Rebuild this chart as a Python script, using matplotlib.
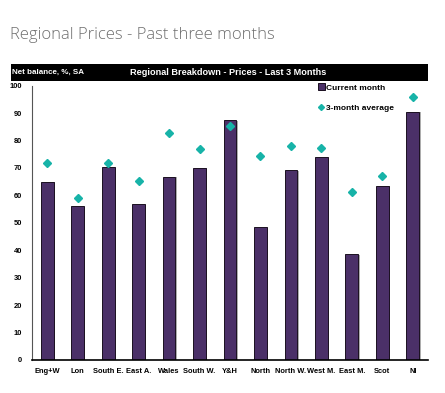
import matplotlib
matplotlib.use("Agg")
import matplotlib.pyplot as plt
from matplotlib.patches import Rectangle
from matplotlib import patheffects as pe

regions = ["Eng+W", "Lon", "South E.", "East A.", "Wales", "South W.", "Y&H",
           "North", "North W.", "West M.", "East M.", "Scot", "NI"]
current_month = [65.0, 56.0, 70.3, 56.9, 66.8, 70.1, 87.4, 48.5, 69.2, 73.9, 38.6, 63.6, 90.5]
three_month_avg = [71.9, 59.0, 71.9, 65.3, 82.7, 76.8, 85.2, 74.2, 77.9, 77.3, 61.2, 67.0, 95.9]
yticks = [0, 10, 20, 30, 40, 50, 60, 70, 80, 90, 100]

purple = "#4b3068"
teal = "#17b3a8"
lab_font = ["Liberation Sans Narrow", "Liberation Sans", "DejaVu Sans"]

W, H = 445, 393
fig = plt.figure(figsize=(W / 100, H / 100), dpi=100)
fig.patch.set_facecolor("white")

# page title
fig.text(10 / W, 1 - 39 / H, "Regional Prices - Past three months",
         family=["Open Sans", "DejaVu Sans"], fontweight="light",
         fontsize=12, color="#6e6e6e", ha="left", va="baseline")

# black header band
fig.patches.append(Rectangle((11 / W, 1 - 81 / H), (428 - 11) / W, 17 / H,
                             transform=fig.transFigure, facecolor="black",
                             edgecolor="none", zorder=0))
fig.text(12 / W, 1 - 72.5 / H, "Net balance, %, SA", color="white",
         family=lab_font, fontweight="bold", fontsize=5.8, va="center", ha="left")
fig.text(228 / W, 1 - 72.5 / H, "Regional Breakdown - Prices - Last 3 Months",
         color="white", family=lab_font, fontweight="bold", fontsize=6.6,
         va="center", ha="center")

ax = fig.add_axes([32 / W, 1 - 360 / H, (428 - 32) / W, (360 - 85.7) / H])
x = list(range(len(regions)))
bars = ax.bar(x, current_month, width=0.42, color=purple, edgecolor="#1a1020",
              linewidth=0.7, label="Current month", zorder=2)
for b in bars:
    b.set_path_effects([pe.SimplePatchShadow(offset=(1, -0.5), shadow_rgbFace="#999999", alpha=0.8),
                        pe.Normal()])
ax.plot(x, three_month_avg, linestyle="none", marker="D", markersize=3.8,
        color=teal, label="3-month average", zorder=3)

ax.set_xlim(-0.5, len(regions) - 0.5)
ax.set_ylim(0, 100)
ax.set_yticks(yticks)
ax.set_xticks(x)
ax.set_xticklabels(regions)
for lab in ax.get_xticklabels() + ax.get_yticklabels():
    lab.set_family(lab_font)
    lab.set_fontweight("bold")
    lab.set_fontsize(5.4)
ax.tick_params(axis="both", length=0)
ax.tick_params(axis="y", pad=7)
ax.tick_params(axis="x", pad=6)
ax.spines["top"].set_visible(False)
ax.spines["right"].set_visible(False)
ax.spines["left"].set_color("#555555")
ax.spines["left"].set_linewidth(0.8)
ax.spines["bottom"].set_color("black")
ax.spines["bottom"].set_linewidth(1.2)

handles, labels = ax.get_legend_handles_labels()
order = [labels.index("Current month"), labels.index("3-month average")]
leg = fig.legend([handles[i] for i in order], [labels[i] for i in order],
                 loc="upper left", bbox_to_anchor=(318 / W, 1 - 84 / H),
                 frameon=False, borderpad=0, borderaxespad=0, markerscale=0.8,
                 prop={"family": lab_font, "weight": "bold", "size": 6},
                 handlelength=0.7, handletextpad=0.25, labelspacing=1.45)
for h in leg.legend_handles:
    try:
        h.set_height(5)
        h.set_width(5)
    except AttributeError:
        pass

fig.savefig("out.png", dpi=100)
